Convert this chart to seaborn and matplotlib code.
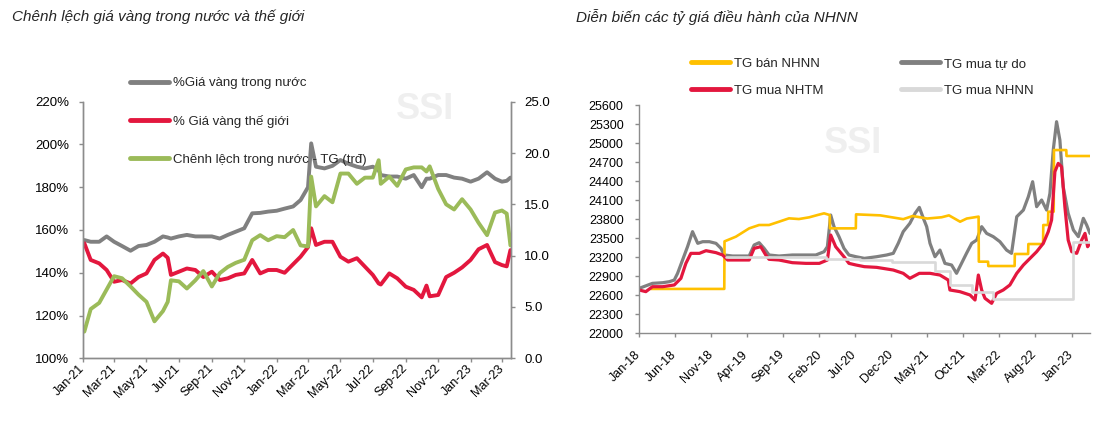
import numpy as np
import pandas as pd
import matplotlib
matplotlib.use('Agg')
import matplotlib.pyplot as plt
import matplotlib.dates as mdates
import seaborn as sns

# ---- left chart: gold prices (domestic vs world) ----
gold_dates = [
    "2021-01-04", "2021-01-16", "2021-02-01", "2021-02-15", "2021-03-01", "2021-03-16",
    "2021-04-01", "2021-04-16", "2021-05-01", "2021-05-16", "2021-06-01", "2021-06-10",
    "2021-06-16", "2021-07-01", "2021-07-16", "2021-08-01", "2021-08-16", "2021-09-01",
    "2021-09-16", "2021-10-01", "2021-10-16", "2021-11-01", "2021-11-16", "2021-12-01",
    "2021-12-16", "2022-01-01", "2022-01-16", "2022-02-01", "2022-02-15", "2022-03-01",
    "2022-03-07", "2022-03-16", "2022-04-01", "2022-04-16", "2022-05-01", "2022-05-16",
    "2022-06-01", "2022-06-16", "2022-07-01", "2022-07-12", "2022-07-16", "2022-08-01",
    "2022-08-16", "2022-09-01", "2022-09-16", "2022-10-01", "2022-10-10", "2022-10-16",
    "2022-11-01", "2022-11-16", "2022-12-01", "2022-12-16", "2023-01-01", "2023-01-16",
    "2023-02-01", "2023-02-16", "2023-03-01", "2023-03-10", "2023-03-17"]
gold_domestic = [
    155.3, 154.5, 154.5, 157.0, 154.5, 152.5, 150.3, 152.5, 153.0, 154.5, 157.0, 156.5,
    156.0, 157.0, 157.7, 157.0, 157.0, 157.0, 156.0, 157.7, 159.2, 160.8, 167.8, 168.0,
    168.6, 169.0, 170.0, 171.0, 174.0, 180.0, 200.5, 189.6, 188.8, 190.0, 192.7, 191.0,
    189.6, 188.8, 189.6, 188.0, 185.7, 185.0, 185.0, 184.0, 185.7, 180.0, 184.0, 184.0,
    185.7, 185.7, 184.5, 184.0, 182.6, 184.0, 187.0, 184.0, 182.6, 183.0, 184.5]
gold_world = [
    153.8, 146.0, 144.4, 141.3, 135.8, 136.6, 135.0, 138.0, 139.7, 146.0, 149.0, 147.0,
    139.0, 140.5, 142.0, 141.3, 138.0, 140.5, 136.6, 137.4, 139.0, 139.7, 146.0, 139.7,
    141.3, 141.3, 140.0, 144.0, 147.5, 152.0, 160.8, 153.0, 154.5, 154.5, 147.5, 145.2,
    146.8, 142.9, 139.0, 135.0, 134.5, 139.7, 137.4, 133.5, 132.0, 128.5, 134.0, 129.0,
    129.6, 138.0, 140.0, 142.5, 146.0, 151.0, 153.0, 145.0, 143.6, 143.0, 150.6]
gold_gap = [
    2.6, 4.8, 5.4, 6.7, 8.0, 7.8, 7.0, 6.2, 5.5, 3.6, 4.6, 5.5,
    7.6, 7.5, 6.8, 7.6, 8.5, 7.0, 8.3, 8.9, 9.3, 9.6, 11.5, 12.0,
    11.5, 11.9, 11.8, 12.5, 11.0, 10.9, 17.7, 14.8, 15.8, 15.2, 18.0, 18.0,
    17.0, 17.6, 17.6, 19.3, 17.0, 17.7, 16.8, 18.4, 18.6, 18.6, 18.2, 18.7,
    16.5, 15.0, 14.5, 15.5, 14.5, 13.2, 12.0, 14.2, 14.4, 14.1, 11.0]
gold_labels = ["%Giá vàng trong nước", "% Giá vàng thế giới",
               "Chênh lệch trong nước - TG (trđ)"]

# ---- right chart: exchange rates ----
free_dates = [
    "2018-01-02", "2018-02-27", "2018-04-11", "2018-05-09", "2018-05-30", "2018-06-13",
    "2018-07-04", "2018-07-25", "2018-08-15", "2018-09-06", "2018-09-27", "2018-10-25",
    "2018-11-22", "2018-12-13", "2018-12-27", "2019-01-31", "2019-04-11", "2019-05-02",
    "2019-05-23", "2019-06-13", "2019-07-04", "2019-08-15", "2019-10-10", "2019-12-06",
    "2020-01-17", "2020-02-21", "2020-03-06", "2020-03-20", "2020-04-03", "2020-04-24",
    "2020-05-15", "2020-06-05", "2020-07-05", "2020-08-09", "2020-09-30", "2020-11-11",
    "2020-12-09", "2020-12-30", "2021-01-20", "2021-02-17", "2021-03-11", "2021-03-29",
    "2021-04-15", "2021-04-29", "2021-05-13", "2021-06-03", "2021-06-24", "2021-07-15",
    "2021-08-12", "2021-09-02", "2021-09-23", "2021-10-14", "2021-11-05", "2021-11-26",
    "2021-12-17", "2022-01-07", "2022-02-04", "2022-03-04", "2022-04-01", "2022-04-22",
    "2022-05-14", "2022-06-11", "2022-07-02", "2022-07-20", "2022-08-06", "2022-08-27",
    "2022-09-17", "2022-10-01", "2022-10-15", "2022-10-29", "2022-11-12", "2022-11-26",
    "2022-12-17", "2023-01-08", "2023-01-29", "2023-02-19", "2023-03-05", "2023-03-19"]
free_rate = [
    22709, 22788, 22798, 22814, 22840, 22946, 23156, 23366, 23603, 23419, 23445, 23445,
    23419, 23340, 23235, 23219, 23219, 23393, 23429, 23340, 23235, 23219, 23235, 23235,
    23235, 23287, 23366, 23865, 23682, 23524, 23340, 23235, 23208, 23182, 23208, 23235,
    23261, 23419, 23603, 23734, 23892, 23986, 23813, 23682, 23419, 23208, 23313, 23103,
    23077, 22946, 23103, 23261, 23419, 23471, 23682, 23576, 23524, 23445, 23313, 23261,
    23839, 23944, 24155, 24391, 23997, 24102, 23944, 24207, 24890, 25337, 25048, 24312,
    23892, 23629, 23524, 23813, 23708, 23576]

nhtm_dates = [
    "2018-01-02", "2018-01-30", "2018-02-27", "2018-04-11", "2018-05-09", "2018-05-30",
    "2018-06-27", "2018-07-18", "2018-08-08", "2018-09-13", "2018-10-11", "2018-11-22",
    "2018-12-20", "2019-01-10", "2019-04-11", "2019-05-02", "2019-05-30", "2019-06-20",
    "2019-07-04", "2019-08-15", "2019-10-10", "2019-12-06", "2020-02-01", "2020-03-06",
    "2020-03-20", "2020-04-10", "2020-05-15", "2020-06-05", "2020-07-05", "2020-08-09",
    "2020-09-30", "2020-12-09", "2021-01-20", "2021-02-17", "2021-03-29", "2021-05-13",
    "2021-06-24", "2021-07-29", "2021-08-05", "2021-09-16", "2021-10-29", "2021-11-19",
    "2021-12-03", "2021-12-17", "2021-12-31", "2022-01-28", "2022-02-18", "2022-03-18",
    "2022-04-15", "2022-05-14", "2022-06-11", "2022-07-09", "2022-08-06", "2022-09-03",
    "2022-09-24", "2022-10-08", "2022-10-22", "2022-11-05", "2022-11-19", "2022-12-03",
    "2022-12-17", "2023-01-01", "2023-01-22", "2023-02-12", "2023-02-26", "2023-03-09",
    "2023-03-19"]
nhtm_rate = [
    22683, 22657, 22735, 22735, 22751, 22762, 22867, 23103, 23261, 23261, 23303, 23272,
    23235, 23156, 23156, 23340, 23366, 23235, 23167, 23156, 23114, 23103, 23103, 23156,
    23550, 23366, 23208, 23103, 23077, 23051, 23040, 22998, 22946, 22867, 22946, 22946,
    22919, 22840, 22683, 22657, 22604, 22525, 22919, 22683, 22552, 22473, 22630, 22683,
    22762, 22946, 23077, 23182, 23287, 23419, 23603, 23787, 24549, 24680, 24628, 23997,
    23471, 23287, 23261, 23471, 23576, 23366, 23419]

sbv_sell_dates = [
    "2018-02-20", "2018-12-27", "2018-12-28", "2019-02-14", "2019-04-11", "2019-05-23",
    "2019-07-04", "2019-08-15", "2019-09-26", "2019-11-07", "2019-12-20", "2020-01-24",
    "2020-02-21", "2020-03-16", "2020-03-17", "2020-07-04", "2020-07-05", "2020-10-15",
    "2021-01-20", "2021-03-01", "2021-05-01", "2021-07-01", "2021-08-01", "2021-09-17",
    "2021-10-15", "2021-12-04", "2021-12-05", "2022-01-13", "2022-01-14", "2022-05-05",
    "2022-05-06", "2022-07-01", "2022-07-02", "2022-09-02", "2022-09-03", "2022-09-23",
    "2022-09-24", "2022-10-17", "2022-10-18", "2022-12-09", "2022-12-10", "2023-03-19"]
sbv_sell = [
    22700, 22700, 23450, 23524, 23655, 23708, 23708, 23760, 23813, 23802, 23829, 23865,
    23892, 23865, 23655, 23655, 23876, 23860, 23800, 23850, 23810, 23830, 23860, 23760,
    23810, 23840, 23130, 23130, 23061, 23061, 23251, 23251, 23408, 23408, 23708, 23708,
    23918, 23918, 24890, 24890, 24796, 24796]

sbv_buy_dates = ["2019-01-02", "2020-03-01", "2020-07-21", "2020-12-05", "2021-06-05",
                 "2021-08-07", "2021-11-05", "2022-02-01", "2023-01-05", "2023-03-19"]
sbv_buy = [23200, 23175, 23160, 23125, 22985, 22755, 22650, 22545, 23445, 23445]

fx_labels = ["TG bán NHNN", "TG mua tự do", "TG mua NHTM", "TG mua NHNN"]

GRAY = "#808080"
RED = "#E3173E"
GREEN = "#9BBB59"
YELLOW = "#FFC000"
LIGHT = "#D9D9D9"
AXIS = "#8C8C8C"

sns.set_style("ticks")
plt.rcParams['font.family'] = ['Liberation Sans', 'DejaVu Sans']

fig = plt.figure(figsize=(11.12, 4.34), dpi=100)


def rotate_dates(ax):
    for lab in ax.get_xticklabels():
        lab.set_rotation(45)
        lab.set_ha("right")
        lab.set_va("center")
        lab.set_rotation_mode("anchor")


# ================= left chart =================
ax1 = fig.add_axes([0.0744, 0.1744, 0.3851, 0.5913])
ax1r = ax1.twinx()
gd = pd.to_datetime(gold_dates)

sns.lineplot(x=gd, y=gold_domestic, ax=ax1, color=GRAY, linewidth=2.8, label=gold_labels[0])
sns.lineplot(x=gd, y=gold_world, ax=ax1, color=RED, linewidth=2.8, label=gold_labels[1])
sns.lineplot(x=gd, y=gold_gap, ax=ax1r, color=GREEN, linewidth=2.8, label=gold_labels[2])
for a in (ax1, ax1r):
    if a.get_legend() is not None:
        a.get_legend().remove()
    a.set_xlabel("")
    a.set_ylabel("")

ax1.set_ylim(100, 220)
ax1.set_yticks(np.arange(100, 221, 20))
ax1.set_yticklabels([f"{v:.0f}%" for v in np.arange(100, 221, 20)])
ax1r.set_ylim(0, 25)
ax1r.set_yticks(np.arange(0, 25.1, 5))
ax1r.set_yticklabels([f"{v:.1f}" for v in np.arange(0, 25.1, 5)])
ax1.set_xlim(pd.Timestamp("2021-01-01"), pd.Timestamp("2023-03-18"))
ax1.set_xticks(pd.date_range("2021-01-01", "2023-03-01", freq="2MS"))
ax1.xaxis.set_major_formatter(mdates.DateFormatter("%b-%y"))

for a in (ax1, ax1r):
    a.spines["top"].set_visible(False)
    for s in ("left", "right", "bottom"):
        a.spines[s].set_color(AXIS)
        a.spines[s].set_linewidth(1.0)
    a.tick_params(axis="both", colors=AXIS, labelcolor="black", length=3, width=1)
    a.tick_params(axis="y", labelsize=9.5, pad=7)
    a.tick_params(axis="x", labelsize=9, pad=3)
ax1.tick_params(axis="y", left=True, right=False)
ax1r.tick_params(axis="y", right=True, left=False, pad=6.5)
rotate_dates(ax1)

ax1.text(0.799, 0.968, "SSI", transform=ax1.transAxes, fontsize=26, fontweight="bold",
         color="#EFEFEF", ha="center", va="center", zorder=0)

handles = ax1.get_lines()[:2] + ax1r.get_lines()[:1]
leg1 = fig.legend(handles, gold_labels, loc="upper left",
                  bbox_to_anchor=(130 / 1112, 1 - 77 / 434), frameon=False, fontsize=9.5,
                  handlelength=2.95, handletextpad=0.3, labelspacing=1.95,
                  borderpad=0, borderaxespad=0)
for h in leg1.legend_handles:
    h.set_linewidth(3.5)

fig.text(12 / 1112, 1 - 17 / 434, "Chênh lệch giá vàng trong nước và thế giới",
         fontsize=11, style="italic", ha="left", va="center")

# ================= right chart =================
ax2 = fig.add_axes([0.5746, 0.232, 0.4056, 0.526])
sns.lineplot(x=pd.to_datetime(free_dates), y=free_rate, ax=ax2, color=GRAY,
             linewidth=2.3, label=fx_labels[1])
sns.lineplot(x=pd.to_datetime(sbv_sell_dates), y=sbv_sell, ax=ax2, color=YELLOW,
             linewidth=1.9, label=fx_labels[0])
sns.lineplot(x=pd.to_datetime(nhtm_dates), y=nhtm_rate, ax=ax2, color=RED,
             linewidth=2.3, label=fx_labels[2])
sns.lineplot(x=pd.to_datetime(sbv_buy_dates), y=sbv_buy, ax=ax2, color=LIGHT,
             linewidth=1.9, drawstyle="steps-post", label=fx_labels[3])
if ax2.get_legend() is not None:
    ax2.get_legend().remove()
ax2.set_xlabel("")
ax2.set_ylabel("")

ax2.set_ylim(22000, 25600)
ax2.set_yticks(np.arange(22000, 25601, 300))
ax2.set_xlim(pd.Timestamp("2018-01-01"), pd.Timestamp("2023-03-19"))
ax2.set_xticks(pd.date_range("2018-01-01", "2023-01-01", freq="5MS"))
ax2.xaxis.set_major_formatter(mdates.DateFormatter("%b-%y"))
ax2.spines["top"].set_visible(False)
ax2.spines["right"].set_visible(False)
for s in ("left", "bottom"):
    ax2.spines[s].set_color(AXIS)
    ax2.spines[s].set_linewidth(1.0)
ax2.tick_params(axis="both", colors=AXIS, labelcolor="black", length=3, width=1)
ax2.tick_params(axis="y", labelsize=9, pad=8)
ax2.tick_params(axis="x", labelsize=9, pad=11)
rotate_dates(ax2)

ax2.text(0.4745, 0.8336, "SSI", transform=ax2.transAxes, fontsize=26, fontweight="bold",
         color="#EFEFEF", ha="center", va="center", zorder=0)

lines2 = {l.get_label(): l for l in ax2.get_lines()}
legA = fig.legend([lines2[fx_labels[0]], lines2[fx_labels[2]]], [fx_labels[0], fx_labels[2]],
                  loc="upper left", bbox_to_anchor=(691 / 1112, 1 - 57.5 / 434), frameon=False,
                  fontsize=9.5, handlelength=2.95, handletextpad=0.3, labelspacing=1.14,
                  borderpad=0, borderaxespad=0)
legB = fig.legend([lines2[fx_labels[1]], lines2[fx_labels[3]]], [fx_labels[1], fx_labels[3]],
                  loc="upper left", bbox_to_anchor=(901 / 1112, 1 - 57.5 / 434), frameon=False,
                  fontsize=9.5, handlelength=2.95, handletextpad=0.3, labelspacing=1.14,
                  borderpad=0, borderaxespad=0)
for lg in (legA, legB):
    for h in lg.legend_handles:
        h.set_linewidth(3.5)

fig.text(576 / 1112, 1 - 17 / 434, "Diễn biến các tỷ giá điều hành của NHNN",
         fontsize=11, style="italic", ha="left", va="center")

fig.savefig("out.png", dpi=100)
